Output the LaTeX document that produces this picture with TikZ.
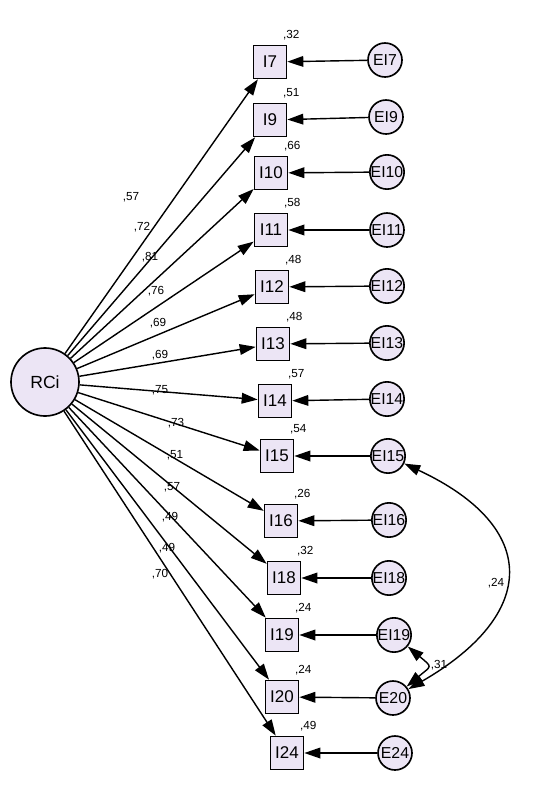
\documentclass[tikz,border=0pt]{standalone}
\usepackage{fontspec}
\setmainfont{Liberation Sans}
\usetikzlibrary{arrows.meta}
\definecolor{amoslilac}{RGB}{236,229,245}

\begin{document}
\begin{tikzpicture}[x=0.3mm,y=-0.3mm]
  \tikzstyle{obs}=[draw,line width=1.4pt,fill=amoslilac,minimum size=9.9mm,inner sep=0pt,
    font=\fontsize{14.5}{16}\selectfont]
  \tikzstyle{err}=[draw,circle,line width=1.4pt,fill=amoslilac,minimum size=10.2mm,inner sep=0pt,
    font=\fontsize{13.5}{15}\selectfont]
  \tikzstyle{lat}=[draw,circle,line width=1.4pt,fill=amoslilac,minimum size=20.4mm,
    font=\fontsize{15}{17}\selectfont]
  \tikzstyle{f}=[-{Triangle[length=4.8mm,width=3.2mm]},line width=1.2pt]
  \tikzstyle{cov}=[{Triangle[length=4.8mm,width=3.2mm]}-{Triangle[length=4.8mm,width=3.2mm]},line width=1.2pt]
  \tikzstyle{coef}=[font=\fontsize{10}{11}\selectfont,inner sep=1pt]
  \tikzstyle{rsq}=[coef,anchor=south west,xshift=-1.7mm,yshift=0.9mm]

  \useasboundingbox (0,0) rectangle (543,800);

  % -- latent factor --
  \node[lat] (RCi) at (45,382) {RCi};

  % -- observed items --
  \node[obs] (I7)  at (270,62)  {I7};
  \node[obs] (I9)  at (270,120) {I9};
  \node[obs] (I10) at (271,173) {I10};
  \node[obs] (I11) at (271,230) {I11};
  \node[obs] (I12) at (272,287) {I12};
  \node[obs] (I13) at (273,344) {I13};
  \node[obs] (I14) at (275,401) {I14};
  \node[obs] (I15) at (277,456) {I15};
  \node[obs] (I16) at (281,521) {I16};
  \node[obs] (I18) at (284,578) {I18};
  \node[obs] (I19) at (282,635) {I19};
  \node[obs] (I20) at (282,697) {I20};
  \node[obs] (I24) at (287,753) {I24};

  % -- error terms --
  \node[err] (EI7)  at (385,60)  {EI7};
  \node[err] (EI9)  at (386,117) {EI9};
  \node[err] (EI10) at (387,172) {EI10};
  \node[err] (EI11) at (387,230) {EI11};
  \node[err] (EI12) at (387,286) {EI12};
  \node[err] (EI13) at (387,343) {EI13};
  \node[err] (EI14) at (387,399) {EI14};
  \node[err] (EI15) at (388,456) {EI15};
  \node[err] (EI16) at (389,520) {EI16};
  \node[err] (EI18) at (389,578) {EI18};
  \node[err] (EI19) at (394,635) {EI19};
  \node[err] (E20)  at (393,698) {E20};
  \node[err] (E24)  at (395,753) {E24};

  % -- loadings --
  \draw[f] (RCi) -- (I7);  \node[coef] at (131,197) {,57};
  \draw[f] (RCi) -- (I9);  \node[coef] at (142,227) {,72};
  \draw[f] (RCi) -- (I10); \node[coef] at (150,257) {,81};
  \draw[f] (RCi) -- (I11); \node[coef] at (156,291) {,76};
  \draw[f] (RCi) -- (I12); \node[coef] at (158,323) {,69};
  \draw[f] (RCi) -- (I13); \node[coef] at (160,355) {,69};
  \draw[f] (RCi) -- (I14); \node[coef] at (160,390) {,75};
  \draw[f] (RCi) -- (I15); \node[coef] at (176,423) {,73};
  \draw[f] (RCi) -- (I16); \node[coef] at (175,455) {,51};
  \draw[f] (RCi) -- (I18); \node[coef] at (172,487) {,57};
  \draw[f] (RCi) -- (I19); \node[coef] at (170,517) {,49};
  \draw[f] (RCi) -- (I20); \node[coef] at (167,548) {,49};
  \draw[f] (RCi) -- (I24); \node[coef] at (160,574) {,70};

  % -- errors to items --
  \draw[f] (EI7) -- (I7);   \node[rsq] at (I7.north east)  {,32};
  \draw[f] (EI9) -- (I9);   \node[rsq] at (I9.north east)  {,51};
  \draw[f] (EI10) -- (I10); \node[rsq] at (I10.north east) {,66};
  \draw[f] (EI11) -- (I11); \node[rsq] at (I11.north east) {,58};
  \draw[f] (EI12) -- (I12); \node[rsq] at (I12.north east) {,48};
  \draw[f] (EI13) -- (I13); \node[rsq] at (I13.north east) {,48};
  \draw[f] (EI14) -- (I14); \node[rsq] at (I14.north east) {,57};
  \draw[f] (EI15) -- (I15); \node[rsq] at (I15.north east) {,54};
  \draw[f] (EI16) -- (I16); \node[rsq] at (I16.north east) {,26};
  \draw[f] (EI18) -- (I18); \node[rsq] at (I18.north east) {,32};
  \draw[f] (EI19) -- (I19); \node[rsq] at (I19.north east) {,24};
  \draw[f] (E20) -- (I20);  \node[rsq] at (I20.north east) {,24};
  \draw[f] (E24) -- (I24);  \node[rsq] at (I24.north east) {,49};

  % -- covariances --
  \draw[cov] (EI15) to[out=-25,in=30,looseness=1.7] (E20);
  \node[coef] at (496,583) {,24};
  \draw[cov] (EI19) to[out=-40,in=40,looseness=2.1] (E20);
  \node[coef] at (439,665) {,31};
\end{tikzpicture}
\end{document}
